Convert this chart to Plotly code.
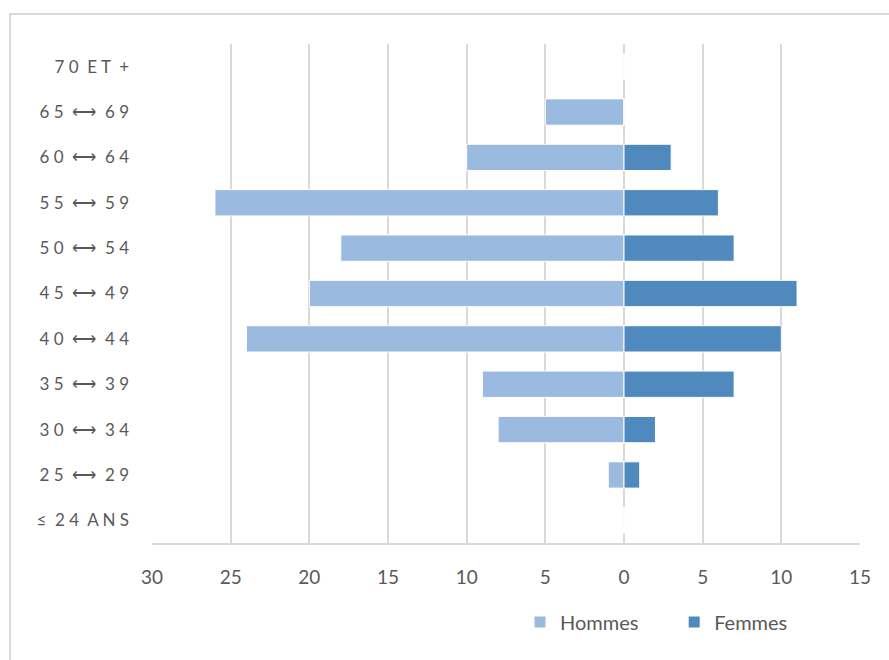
import plotly.graph_objects as go

# Age groups, bottom to top
age_groups = ["≤ 24 ANS", "25 ⟷ 29", "30 ⟷ 34", "35 ⟷ 39", "40 ⟷ 44", "45 ⟷ 49",
              "50 ⟷ 54", "55 ⟷ 59", "60 ⟷ 64", "65 ⟷ 69", "70 ET +"]
hommes = [0, 1, 8, 9, 24, 20, 18, 26, 10, 5, 0]
femmes = [0, 1, 2, 7, 10, 11, 7, 6, 3, 0, 0]
tick_values = [-30, -25, -20, -15, -10, -5, 0, 5, 10, 15]
tick_labels = [str(abs(v)) for v in tick_values]


def spaced(label):
    # widen the letter spacing of the category labels
    words = label.split(" ")
    return "  ".join(" ".join(w) for w in words)


W, H = 889, 660
ML, MR, MT, MB = 152, 29, 44, 117

fig = go.Figure()
fig.add_trace(go.Bar(
    y=age_groups, x=[-v for v in hommes], orientation="h",
    name="Hommes" + "\u00a0" * 6,
    marker=dict(color="#9BBAE0", line=dict(color="#FFFFFF", width=1)),
    width=0.58,
))
fig.add_trace(go.Bar(
    y=age_groups, x=femmes, orientation="h", name="Femmes",
    marker=dict(color="#4F89BD", line=dict(color="#FFFFFF", width=1)),
    width=0.58,
))

pw = W - ML - MR
ph = H - MT - MB
# outer chart frame
fig.add_shape(type="rect", xref="paper", yref="paper",
              x0=(10 - ML) / pw, x1=(W + 20 - ML) / pw,
              y0=-(H + 20 - MT - ph) / ph, y1=1 + (MT - 14) / ph,
              line=dict(color="#D9D9D9", width=2), layer="below")

fig.update_layout(
    width=W, height=H,
    margin=dict(l=ML, r=MR, t=MT, b=MB, autoexpand=False),
    paper_bgcolor="white", plot_bgcolor="white",
    barmode="relative", bargap=0.42,
    font=dict(family="Lato, 'Open Sans', sans-serif", color="#595959"),
    showlegend=True,
    legend=dict(orientation="h", x=(520 - ML) / pw, xanchor="left",
                y=-(622 - (H - MB)) / ph, yanchor="middle",
                font=dict(size=20, color="#595959"), itemwidth=30,
                tracegroupgap=0, traceorder="normal"),
    xaxis=dict(range=[-30, 15], tickvals=tick_values, ticktext=tick_labels,
               showgrid=True, gridcolor="#D9D9D9", gridwidth=2,
               zeroline=True, zerolinecolor="#D9D9D9", zerolinewidth=2,
               showline=True, linecolor="#D9D9D9", linewidth=2,
               ticks="", ticklabelstandoff=16,
               tickfont=dict(size=19, color="#595959")),
    yaxis=dict(categoryorder="array", categoryarray=age_groups,
               tickvals=age_groups, ticktext=[spaced(a) for a in age_groups],
               range=[-0.5, len(age_groups) - 0.5],
               showgrid=False, zeroline=False, showline=False,
               ticks="", ticklabelstandoff=22,
               tickfont=dict(size=17, color="#595959")),
)

fig.write_html("out.html")
